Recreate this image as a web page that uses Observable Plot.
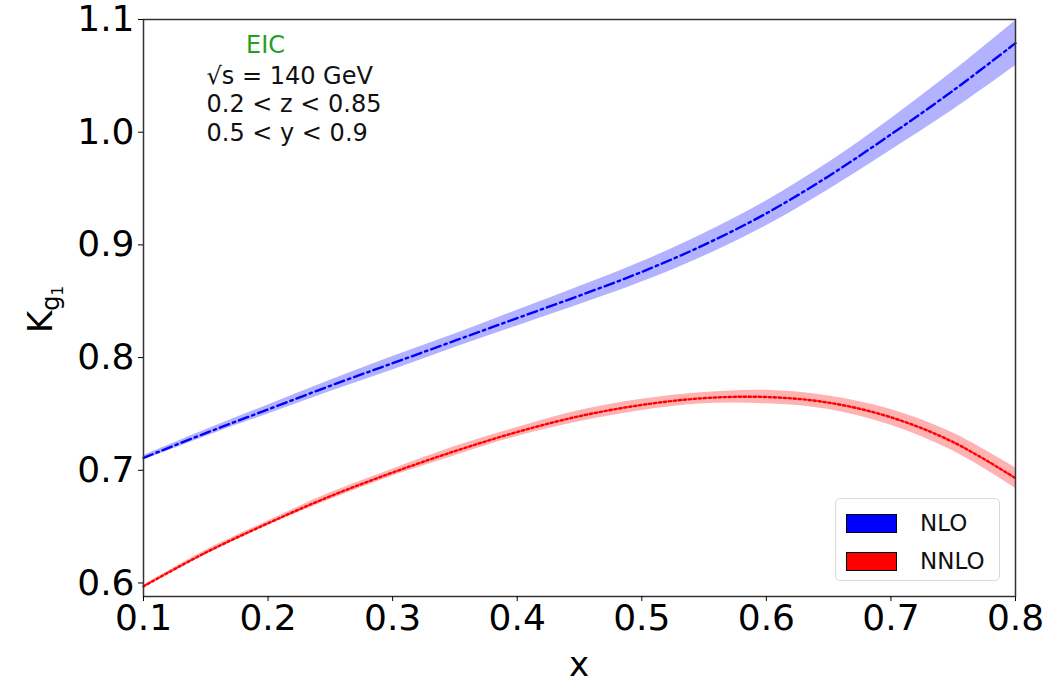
<!DOCTYPE html>
<html><head><meta charset="utf-8">
<script src="https://cdn.jsdelivr.net/npm/d3@7"></script>
<script src="https://cdn.jsdelivr.net/npm/@observablehq/plot@0.6"></script>
<style>
body{margin:0;background:#fff;font-family:"DejaVu Sans",sans-serif;}
#wrap{position:relative;width:1063px;height:689px;}
.legend{position:absolute;left:835px;top:498px;width:165px;height:83px;border:1px solid #d9d9d9;border-radius:5px;background:rgba(255,255,255,0.8);box-sizing:border-box;font-family:"DejaVu Sans",sans-serif;font-size:23px;color:#111;}
.legend .row{position:absolute;left:10px;display:flex;align-items:center;}
.legend .sw{width:51px;height:19px;border:1px solid #000;box-sizing:border-box;margin-right:23px;}
</style></head><body><div id="wrap"></div>
<script>
// ---- data ----
const xs = [0.1,0.15,0.2,0.25,0.3,0.35,0.4,0.45,0.5,0.55,0.6,0.65,0.7,0.75,0.8];
const nloCentral = [0.711,0.733,0.754,0.775,0.795,0.815,0.835,0.855,0.876,0.900,0.928,0.961,0.998,1.037,1.079];
const nloHalfWidth = [0.002,0.003,0.004,0.005,0.006,0.006,0.007,0.008,0.009,0.010,0.011,0.012,0.014,0.017,0.020];
const nnloCentral = [0.597,0.627,0.653,0.677,0.698,0.717,0.734,0.748,0.758,0.764,0.765,0.760,0.747,0.725,0.693];
const nnloHalfWidth = [0.001,0.002,0.002,0.003,0.003,0.004,0.004,0.005,0.005,0.005,0.006,0.006,0.007,0.008,0.009];
const seriesNames = ["NLO","NNLO"];
const seriesColors = ["#0000ff","#ff0000"];
const xTicks = [0.1,0.2,0.3,0.4,0.5,0.6,0.7,0.8];
const yTicks = [0.6,0.7,0.8,0.9,1.0,1.1];
const annotationTitle = "EIC";
const annotationLines = ["\u221As = 140 GeV","0.2 < z < 0.85","0.5 < y < 0.9"];

const mk = (c,h) => xs.map((x,i)=>({x, y:c[i], lo:c[i]-h[i], hi:c[i]+h[i]}));
const nlo = mk(nloCentral, nloHalfWidth);
const nnlo = mk(nnloCentral, nnloHalfWidth);
const curve = "catmull-rom";
const font = "DejaVu Sans";

const plot = Plot.plot({
  width: 1063, height: 689,
  marginLeft: 143, marginRight: 48, marginTop: 19, marginBottom: 93,
  x: {domain: [0.1, 0.8]},
  y: {domain: [0.588, 1.1]},
  style: {fontFamily: font, fontSize: "36px", color: "#000", background: "#fff", overflow: "visible"},
  marks: [
    Plot.areaY(nlo, {x: "x", y1: "lo", y2: "hi", fill: seriesColors[0], fillOpacity: 0.3, curve}),
    Plot.areaY(nnlo, {x: "x", y1: "lo", y2: "hi", fill: seriesColors[1], fillOpacity: 0.3, curve}),
    Plot.line(nlo, {x: "x", y: "y", stroke: seriesColors[0], strokeWidth: 2.4, strokeDasharray: "10,4,2.5,4", curve}),
    Plot.line(nnlo, {x: "x", y: "y", stroke: seriesColors[1], strokeWidth: 2.4, strokeDasharray: "2.4,2.6", curve}),
    Plot.frame({stroke: "#333", strokeWidth: 1.5}),
    Plot.axisX({ticks: xTicks, tickFormat: d3.format(".1f"), tickSize: 5, tickPadding: 3, label: null, fontSize: 36}),
    Plot.axisY({ticks: yTicks, tickFormat: d3.format(".1f"), tickSize: 5, tickPadding: 4, label: null, fontSize: 36}),
    Plot.text([annotationTitle], {frameAnchor: "top-left", dx: 122, dy: 16, text: d => d, fill: "#22a022", fontSize: 24, textAnchor: "middle"}),
    ...annotationLines.map((line, i) =>
      Plot.text([line], {frameAnchor: "top-left", dx: 63, dy: 47 + i * 28.5, text: d => d, fill: "#111", fontSize: 24, textAnchor: "start"}))
  ]
});

const svg = d3.select(plot);
// x axis label
svg.append("text").attr("x", 143 + (1015-143)/2).attr("y", 676)
  .attr("text-anchor","middle").attr("font-size", 34).attr("font-family", font).text("x");
// y axis label with nested subscript
const yl = svg.append("text").attr("transform","translate(52,333) rotate(-90)")
  .attr("text-anchor","start").attr("font-size", 34).attr("font-family", font);
yl.append("tspan").text("K");
yl.append("tspan").attr("font-size", 24).attr("dy", 7).text("g");
yl.append("tspan").attr("font-size", 15).attr("dy", 4).text("1");

const wrap = document.getElementById("wrap");
wrap.appendChild(plot);
const lg = document.createElement("div");
lg.className = "legend";
seriesNames.forEach((n,i)=>{
  const r = document.createElement("div");
  r.className = "row";
  r.style.top = (11 + i*38) + "px";
  r.innerHTML = `<span class="sw" style="background:${seriesColors[i]}"></span><span>${n}</span>`;
  lg.appendChild(r);
});
wrap.appendChild(lg);
</script>
</body></html>
